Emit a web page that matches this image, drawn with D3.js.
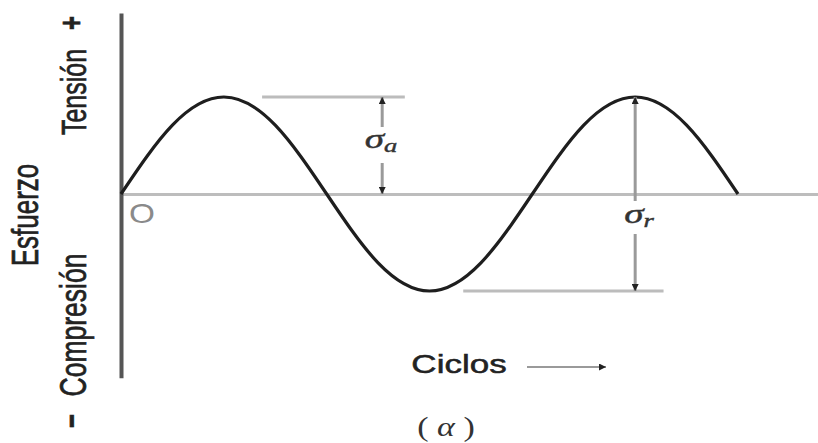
<!DOCTYPE html>
<html>
<head>
<meta charset="utf-8">
<script src="https://cdn.jsdelivr.net/npm/d3@7"></script>
<style>
  html, body { margin: 0; padding: 0; background: #fff; }
  svg { display: block; }
</style>
</head>
<body>
<svg id="chart" width="818" height="443"></svg>
<script>
// Fluctuating stress over load cycles (fully reversed loading)
const cycles = [0, 0.125, 0.25, 0.375, 0.5, 0.625, 0.75, 0.875, 1, 1.125, 1.25, 1.375, 1.5];
const stress = [0, 0.71, 1, 0.71, 0, -0.71, -1, -0.71, 0, 0.71, 1, 0.71, 0];

// Axis extents, in the same units as the data
const cycleAxisExtent = [0, 1.696];
const stressAxisExtent = [-1.895, 1.865];

// Labels
const yTitle = "Esfuerzo";
const tensionLabel = "Tensión";
const compressionLabel = "Compresión";
const xTitle = "Ciclos";
const originLabel = "O";
const caption = "( α )";

const svg = d3.select("#chart");
svg.append("rect").attr("width", 818).attr("height", 443).attr("fill", "#fff");

const x = d3.scaleLinear().domain([0, 1.5]).range([121, 738]);
const y = d3.scaleLinear().domain([-1, 1]).range([291, 97]);

const stretch = 1.4; // glyphs are drawn wide

// Arrowhead markers
const defs = svg.append("defs");
defs.append("marker")
  .attr("id", "head")
  .attr("viewBox", "0 0 10 10")
  .attr("refX", 10).attr("refY", 5)
  .attr("markerWidth", 14).attr("markerHeight", 7)
  .attr("markerUnits", "userSpaceOnUse")
  .attr("orient", "auto")
  .append("path").attr("d", "M0,0 L10,5 L0,10 Z").attr("fill", "#222");

// Horizontal (cycles) axis
const xAxisScale = x.copy().domain(cycleAxisExtent).range(cycleAxisExtent.map(x));
const gx = svg.append("g")
  .attr("transform", `translate(0,${y(0)})`)
  .call(d3.axisBottom(xAxisScale).tickValues([]).tickSizeOuter(0));
gx.select(".domain").attr("stroke", "#bdbdbd").attr("stroke-width", 3);

// Vertical (stress) axis
const yAxisScale = y.copy().domain(stressAxisExtent).range(stressAxisExtent.map(y));
const gy = svg.append("g")
  .attr("transform", `translate(${x(0)},0)`)
  .call(d3.axisLeft(yAxisScale).tickValues([]).tickSizeOuter(0));
gy.select(".domain").attr("stroke", "#555").attr("stroke-width", 4);

// Reference lines for the amplitude dimensions
const dimColor = "#bcbcbc";
svg.append("line")
  .attr("x1", x(0.343)).attr("x2", x(0.69))
  .attr("y1", y(1)).attr("y2", y(1))
  .attr("stroke", dimColor).attr("stroke-width", 3);
svg.append("line")
  .attr("x1", x(0.832)).attr("x2", x(1.319))
  .attr("y1", y(-1)).attr("y2", y(-1))
  .attr("stroke", dimColor).attr("stroke-width", 3);

// Stress curve
const line = d3.line()
  .x((d, i) => x(cycles[i]))
  .y(d => y(d))
  .curve(d3.curveNatural);
svg.append("path")
  .datum(stress)
  .attr("d", line)
  .attr("fill", "none")
  .attr("stroke", "#1e1e1e")
  .attr("stroke-width", 3.2)
  .attr("stroke-linejoin", "round");

// Dimension arrow with a gap for its label
function dimArrow(cx, yTop, yBottom, gapTop, gapBottom) {
  const g = svg.append("g");
  g.append("line")
    .attr("x1", cx).attr("x2", cx)
    .attr("y1", gapTop).attr("y2", yTop)
    .attr("stroke", "#9a9a9a").attr("stroke-width", 3)
    .attr("marker-end", "url(#head)");
  g.append("line")
    .attr("x1", cx).attr("x2", cx)
    .attr("y1", gapBottom).attr("y2", yBottom)
    .attr("stroke", "#9a9a9a").attr("stroke-width", 3)
    .attr("marker-end", "url(#head)");
}

// Alternating stress amplitude
const xa = x(0.635);
dimArrow(xa, y(1), y(0), 127, 163);
// Stress range
const xr = x(1.25);
dimArrow(xr, y(1), y(-1), 201, 234);

function sigmaLabel(cx, baseline, sub) {
  const t = svg.append("text")
    .attr("transform", `translate(${cx},${baseline}) scale(${stretch},1)`)
    .attr("text-anchor", "middle")
    .attr("font-family", "Liberation Serif, serif")
    .attr("font-style", "italic")
    .attr("font-size", 28)
    .attr("fill", "#333")
    .attr("stroke", "#333").attr("stroke-width", 0.4);
  t.append("tspan").text("σ");
  t.append("tspan").attr("font-size", 19).attr("dy", 4).text(sub);
}
sigmaLabel(381, 148, "a");
sigmaLabel(639, 223, "r");

// Origin marker
svg.append("text")
  .attr("transform", `translate(142,223) scale(${stretch * 0.85},1)`)
  .attr("text-anchor", "middle")
  .attr("font-family", "Liberation Sans, sans-serif")
  .attr("font-size", 28)
  .attr("fill", "#8a8a8a")
  .text(originLabel);

// Rotated axis labels
function vText(txt, cx, cy, size, opts = {}) {
  svg.append("text")
    .attr("transform", `translate(${cx},${cy}) scale(${stretch},1) rotate(-90)`)
    .attr("text-anchor", "middle")
    .attr("dominant-baseline", "central")
    .attr("font-family", "Liberation Sans, Arial, sans-serif")
    .attr("font-size", size)
    .attr("font-weight", opts.weight || "normal")
    .attr("fill", "#222")
    .attr("stroke", "#222").attr("stroke-width", 0.5)
    .text(txt);
}
vText(yTitle, 25, 215, 26);
vText(tensionLabel, 73, 92, 25);
vText(compressionLabel, 73, 325, 26.5);
vText("+", 71, 23, 24, { weight: "bold" });
vText("−", 71, 421, 24, { weight: "bold" });

// Cycles title with arrow
svg.append("text")
  .attr("transform", `translate(459,373) scale(${stretch},1)`)
  .attr("text-anchor", "middle")
  .attr("font-family", "Liberation Sans, Arial, sans-serif")
  .attr("font-size", 25)
  .attr("fill", "#222")
  .attr("stroke", "#222").attr("stroke-width", 0.5)
  .text(xTitle);
svg.append("line")
  .attr("x1", 527).attr("x2", 606)
  .attr("y1", 367).attr("y2", 367)
  .attr("stroke", "#9a9a9a").attr("stroke-width", 2.2)
  .attr("marker-end", "url(#head)");

// Caption
svg.append("text")
  .attr("transform", `translate(446,436) scale(${stretch * 0.9},1)`)
  .attr("text-anchor", "middle")
  .attr("font-family", "Liberation Serif, serif")
  .attr("font-size", 27)
  .attr("fill", "#333")
  .html('( <tspan font-style="italic">α</tspan> )');
</script>
</body>
</html>
